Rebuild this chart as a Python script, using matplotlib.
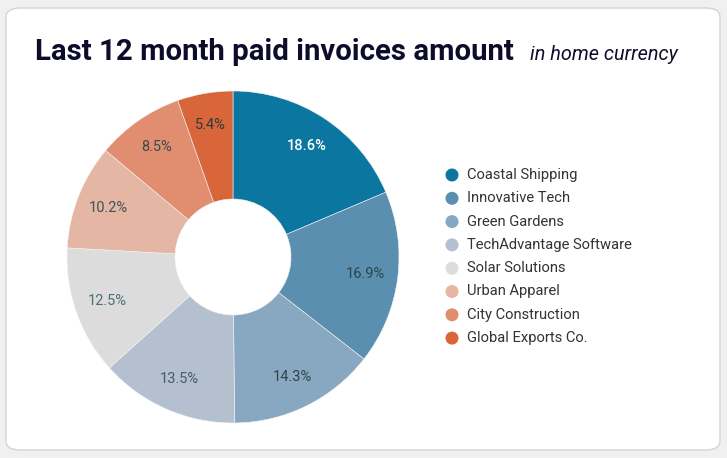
import numpy as np
import matplotlib.pyplot as plt
from matplotlib.patches import FancyBboxPatch, Ellipse

companies = ['Coastal Shipping', 'Innovative Tech', 'Green Gardens', 'TechAdvantage Software',
             'Solar Solutions', 'Urban Apparel', 'City Construction', 'Global Exports Co.']
shares = [18.6, 16.9, 14.3, 13.5, 12.5, 10.2, 8.5, 5.4]
colors = ['#0b76a0', '#5a8fb0', '#87a8c0', '#b4c0cf', '#dcdcdc', '#e4b6a3', '#e08e6f', '#d9653b']
label_colors = ['white', '#2e4449', '#2e4449', '#456065', '#4f6f73', '#3d5558', '#3d4b4d', '#2e3a3c']

plt.rcParams['font.family'] = ['Roboto', 'DejaVu Sans']

fig = plt.figure(figsize=(7.27, 4.58), dpi=100)
fig.patch.set_facecolor('#f0f0f0')

card = FancyBboxPatch((6 / 727, 8 / 458), 714 / 727, 442 / 458,
                      boxstyle='round,pad=0,rounding_size=0.02',
                      transform=fig.transFigure, facecolor='white',
                      edgecolor='#d4d4d4', linewidth=1.0, zorder=-5)
fig.patches.append(card)

fig.text(35 / 727, 1 - 52 / 458, 'Last 12 month paid invoices amount', fontsize=21.2,
         fontweight='bold', color='#0d0d2b', va='center', ha='left')
fig.text(530 / 727, 1 - 54 / 458, 'in home currency', fontsize=14.3, style='italic',
         color='#0d0d2b', va='center', ha='left')

# pie axes: centre (233, 257), radius 166 px
r = 166
ax = fig.add_axes([(233 - r) / 727, 1 - (257 + r) / 458, 2 * r / 727, 2 * r / 458])
ax.axis('off')
wedges, _ = ax.pie(shares, colors=colors, startangle=90, counterclock=False,
                   radius=1.0, wedgeprops=dict(width=1 - 58 / 166, linewidth=0.4, edgecolor='#f4f4f4'))
ax.set_aspect('equal')
ax.set_xlim(-1, 1)
ax.set_ylim(-1, 1)

total = sum(shares)
start = 90.0
for v, lc in zip(shares, label_colors):
    mid = start - v / total * 360 / 2
    start -= v / total * 360
    x = 0.805 * np.cos(np.radians(mid))
    y = 0.805 * np.sin(np.radians(mid))
    ax.text(x, y, f'{v}%', ha='center', va='center', fontsize=10.5, color=lc,
            fontweight='medium' if lc == 'white' else 'normal')

# legend
for i, (name, c) in enumerate(zip(companies, colors)):
    yy = 1 - (175 + i * 23.3) / 458
    fig.patches.append(Ellipse((452 / 727, yy), 13 / 727, 13 / 458, transform=fig.transFigure,
                               facecolor=c, edgecolor='none'))
    fig.text(467 / 727, yy, name, fontsize=10.6, color='#333333', va='center', ha='left')

fig.savefig('out.png', dpi=100, facecolor=fig.get_facecolor())
